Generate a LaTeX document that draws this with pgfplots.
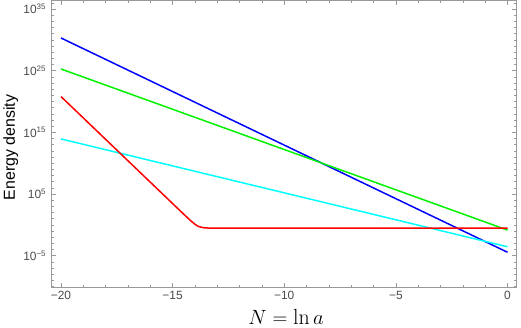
\documentclass[border=0pt]{standalone}
\usepackage{fontspec}
\usepackage{pgfplots}
\pgfplotsset{compat=1.18}
\newfontfamily\hv{Liberation Sans}
\definecolor{framegray}{gray}{0.6}
\definecolor{labgray}{gray}{0.3}
\begin{document}
\begin{tikzpicture}
\begin{axis}[
    scale only axis,
    width=467pt, height=289pt,
    ymode=log,
    xmin=-20.42, xmax=0.38,
    ymin=6.3e-11, ymax=2.5e36,
    xtick={-20,-15,-10,-5,0},
    xticklabels={−20,−15,−10,−5,0},
    minor x tick num=4,
    ytick={1e-5,1e5,1e15,1e25,1e35},
    yticklabels={10\textsuperscript{−5},10\textsuperscript{5},10\textsuperscript{15},10\textsuperscript{25},10\textsuperscript{35}},
    minor ytick={1e-10,1e-9,1e-8,1e-7,1e-6,1e-4,1e-3,1e-2,1e-1,1,1e1,1e2,1e3,1e4,
        1e6,1e7,1e8,1e9,1e10,1e11,1e12,1e13,1e14,1e16,1e17,1e18,1e19,1e20,1e21,1e22,1e23,1e24,
        1e26,1e27,1e28,1e29,1e30,1e31,1e32,1e33,1e34,1e36},
    tick align=inside,
    major tick length=4.5pt,
    minor tick length=2.5pt,
    every tick/.style={framegray, line width=0.6pt},
    axis line style={framegray, line width=0.7pt},
    tick label style={font=\hv\fontsize{12}{14}\selectfont, text=labgray},
    yticklabel style={xshift=-2pt},
    xlabel={$N = \ln a$},
    ylabel={Energy density},
    xlabel style={font=\fontsize{22}{26}\selectfont, at={(axis description cs:0.505,-0.100)}, anchor=center},
    ylabel style={font=\hv\fontsize{16}{19}\selectfont, at={(axis description cs:-0.088,0.488)}, anchor=center},
    every axis plot/.append style={line width=1.5pt},
]
% radiation-like
\addplot[color={rgb,1:red,0;green,0;blue,1}] coordinates {(-20,2.0e30) (0,3.55e-5)};
% matter-like
\addplot[color={rgb,1:red,0;green,0.95;blue,0}] coordinates {(-20,1.86e25) (0,0.141)};
% curvature-like
\addplot[color={rgb,1:red,0;green,1;blue,1}] coordinates {(-20,8.5e13) (0,2.8e-4)};
% steep then constant
\addplot[color={rgb,1:red,1;green,0;blue,0}] coordinates {
    (-20,6.31e20) (-18,7.24e13) (-16,8.32e6) (-15,2818) (-14.5,52.2)
    (-14.2,5.01) (-14.0,1.25) (-13.9,0.724) (-13.8,0.489) (-13.6,0.334)
    (-13.4,0.303) (-13.0,0.296) (-10,0.295) (-5,0.295) (0,0.295)
};
\end{axis}
\path[use as bounding box] (-49pt,-38pt) rectangle (472pt,289pt);
\end{tikzpicture}
\end{document}
